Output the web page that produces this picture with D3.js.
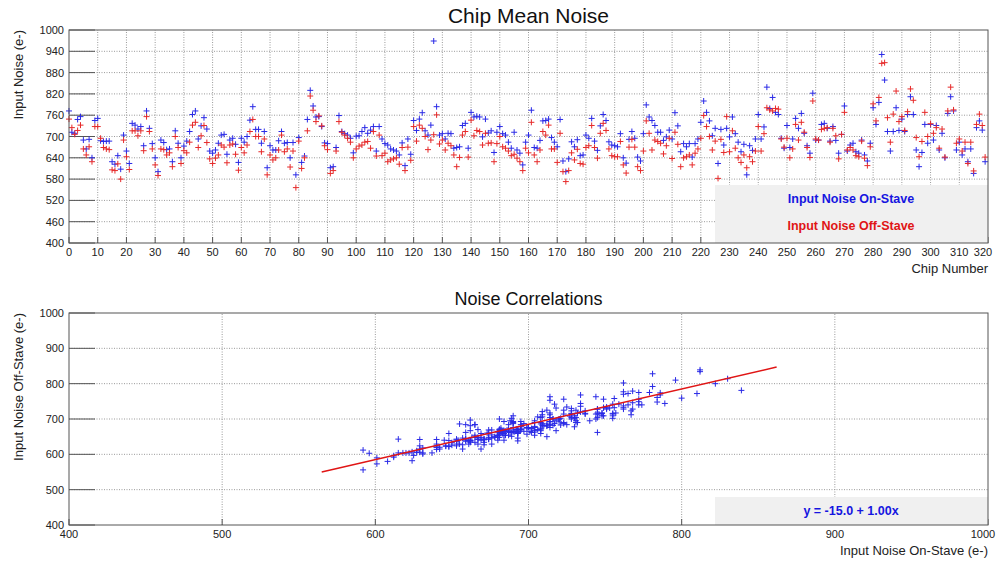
<!DOCTYPE html>
<html>
<head>
<meta charset="utf-8">
<script src="https://cdn.jsdelivr.net/npm/d3@7"></script>
<style>
  body { margin: 0; background: #fff; }
  svg { display: block; font-family: "Liberation Sans", Arial, Helvetica, sans-serif; }
</style>
</head>
<body>
<svg id="chart" width="997" height="563"></svg>
<script>
// input noise per chip (e-)
const onStave = [
  772,712,709,748,756,690,665,692,640,745, 751,688,686,687,687,629,622,646,608,704,
  659,624,737,732,721,728,674,772,723,680, 640,601,690,683,663,665,629,716,681,640,
  673,687,714,762,772,693,730,753,721,659, 653,662,681,704,706,650,690,695,678,627,
  695,684,700,746,784,720,720,681,714,612, 674,662,662,688,714,681,683,640,683,592,
  697,627,645,748,830,786,755,756,728,682, 680,612,615,669,759,714,708,704,695,654,
  701,702,714,725,709,718,728,659,728,693, 680,676,665,662,659,648,682,618,693,650,
  745,717,749,767,716,704,732,969,784,704, 708,693,709,708,667,669,671,731,737,667,
  768,755,757,755,699,749,710,716,655,712, 728,708,704,684,667,712,662,653,620,684,
  704,774,669,667,689,744,745,749,697,684, 671,748,631,601,637,685,671,691,646,648,
  704,695,751,687,661,730,762,745,685,676, 674,671,708,640,625,692,714,695,642,631,
  708,789,755,745,731,712,712,689,699,718, 693,767,730,657,680,671,680,642,680,693,
  740,800,768,744,702,723,624,720,676,723, 699,755,708,684,657,678,592,674,661,693,
  762,693,727,839,779,810,768,762,695,667, 731,669,693,751,723,765,709,674,653,822,
  690,690,734,737,723,687,728,689,653,706, 786,659,676,681,657,653,690,648,631,681,
  781,734,796,931,859,714,659,714,781,717, 749,714,762,812,762,662,615,655,734,681,
  734,690,731,662,709,640,765,812,772,662, 684,648,665,629,665,596,725,744,718,629
];
const offStave = [
  749,725,706,717,732,665,648,671,629,728, 728,695,669,665,663,606,604,623,580,690,
  643,607,716,716,702,716,660,756,714,665, 620,590,665,663,648,654,615,700,669,624,
  660,654,684,732,740,669,702,731,683,637, 624,639,648,676,670,626,676,679,650,605,
  669,654,676,714,748,700,700,657,693,592, 648,634,640,662,704,657,665,614,659,556,
  687,610,640,716,814,774,742,758,730,674, 663,596,604,659,742,712,704,695,684,640,
  665,673,676,684,686,667,714,645,704,646, 653,629,634,637,640,622,669,604,670,633,
  728,687,732,723,700,663,690,705,761,679, 690,662,681,674,648,615,641,704,714,642,
  746,702,717,714,676,709,681,682,629,680, 700,671,667,659,646,650,639,629,604,667,
  654,740,648,629,662,714,704,732,665,665, 627,709,601,573,604,654,634,664,624,622,
  669,674,731,669,639,709,737,717,665,646, 643,643,686,620,597,670,692,670,615,604,
  659,744,709,662,690,686,681,651,674,695, 638,712,678,615,640,643,648,620,653,665,
  695,759,728,700,662,687,582,692,655,756, 657,716,667,640,627,648,612,643,629,659,
  728,659,708,781,775,772,779,777,693,670, 695,640,665,734,690,740,712,669,641,800,
  693,690,720,723,725,684,723,702,637,706, 768,662,669,662,646,643,687,639,618,671,
  792,744,810,906,908,753,684,763,828,742, 756,717,770,834,802,697,643,686,768,700,
  736,709,725,667,721,642,772,839,775,681, 693,659,684,624,684,603,734,763,731,642
];
// chips left out of the correlation plot
const corrExcluded = [127, 283, 284];
// fit shown in the lower panel: y = p0 + p1 x, drawn over fitRange
const fitParams = [-15.0, 1.00];
const fitRange = [565, 862];

const chipTicks = d3.range(0, 321, 10);
const noiseTicks = [400, 460, 520, 580, 640, 700, 760, 820, 880, 940, 1000];
const corrTicks = [400, 500, 600, 700, 800, 900, 1000];

const blue = "#2a2ae6", red = "#e62a2a";
const cross = "M-3,0H3M0,-3V3";

let svg = d3.select("#chart");

//cadre, grille et graduations d'un panneau
function panel(x, y, xTicks, yTicks, xTitle, yTitle, title, titleY, titleSize) {
  let g = svg.append("g");
  let [x0, x1] = x.range(), [y0, y1] = y.range();

  g.selectAll(".gx").data(xTicks.slice(1, -1)).join("line")
    .attr("x1", d => x(d)).attr("x2", d => x(d)).attr("y1", y0).attr("y2", y1)
    .attr("stroke", "#9a9a9a").attr("stroke-dasharray", "1,1.5");
  g.selectAll(".gy").data(yTicks.slice(1, -1)).join("line")
    .attr("x1", x0).attr("x2", x1).attr("y1", d => y(d)).attr("y2", d => y(d))
    .attr("stroke", "#9a9a9a").attr("stroke-dasharray", "1,1.5");

  // solid ticks
  g.selectAll(".ty").data(yTicks).join("line")
    .attr("x1", x0).attr("x2", x0 + 26).attr("y1", d => y(d)).attr("y2", d => y(d))
    .attr("stroke", "#555");
  g.selectAll(".tx").data(xTicks).join("line")
    .attr("x1", d => x(d)).attr("x2", d => x(d)).attr("y1", y0).attr("y2", y0 - 6)
    .attr("stroke", "#555");

  // last label would run off the page, keep it inside
  g.selectAll(".lx").data(xTicks).join("text")
    .attr("x", d => Math.min(x(d), 983)).attr("y", y0 + 13)
    .attr("text-anchor", "middle").attr("font-size", 11).attr("fill", "#222")
    .text(d => d);
  g.selectAll(".ly").data(yTicks).join("text")
    .attr("x", x0 - 5).attr("y", d => y(d) + 4)
    .attr("text-anchor", "end").attr("font-size", 11).attr("fill", "#222")
    .text(d => d);

  g.append("text").attr("x", x1).attr("y", y0 + 30)
    .attr("text-anchor", "end").attr("font-size", 13).attr("fill", "#222")
    .text(xTitle);
  g.append("text").attr("transform", `translate(23,${y1}) rotate(-90)`)
    .attr("text-anchor", "end").attr("font-size", 13).attr("fill", "#222")
    .text(yTitle);
  g.append("text").attr("x", (x0 + x1) / 2).attr("y", titleY)
    .attr("text-anchor", "middle").attr("font-size", titleSize).attr("fill", "#111")
    .text(title);
  return g;
}

function frame(x, y) {
  let [x0, x1] = x.range(), [y0, y1] = y.range();
  svg.append("rect").attr("x", x0).attr("y", y1).attr("width", x1 - x0).attr("height", y0 - y1)
    .attr("fill", "none").attr("stroke", "#555");
}

// --- Chip Mean Noise
let xChip = d3.scaleLinear().domain([0, 320]).range([69, 988]),
    yNoise = d3.scaleLinear().domain([400, 1000]).range([243, 30]);

panel(xChip, yNoise, chipTicks, noiseTicks, "Chip Number", "Input Noise (e-)", "Chip Mean Noise", 23, 21);

svg.append("g").selectAll("path").data(onStave).join("path")
  .attr("d", cross).attr("transform", (d, i) => `translate(${xChip(i)},${yNoise(d)})`)
  .attr("stroke", blue).attr("fill", "none");
svg.append("g").selectAll("path").data(offStave).join("path")
  .attr("d", cross).attr("transform", (d, i) => `translate(${xChip(i)},${yNoise(d)})`)
  .attr("stroke", red).attr("fill", "none");

svg.append("rect").attr("x", 715).attr("y", 185).attr("width", 273).attr("height", 58)
  .attr("fill", "#f0f0f0");
svg.append("text").attr("x", 851).attr("y", 203).attr("text-anchor", "middle")
  .attr("font-size", 12.5).attr("font-weight", "bold").attr("fill", "#1515e0")
  .text("Input Noise On-Stave");
svg.append("text").attr("x", 851).attr("y", 230).attr("text-anchor", "middle")
  .attr("font-size", 12.5).attr("font-weight", "bold").attr("fill", "#e01515")
  .text("Input Noise Off-Stave");
frame(xChip, yNoise);

// --- Noise Correlations
let xOn = d3.scaleLinear().domain([400, 1000]).range([69, 988]),
    yOff = d3.scaleLinear().domain([400, 1000]).range([525, 313]);

panel(xOn, yOff, corrTicks, corrTicks, "Input Noise On-Stave (e-)", "Input Noise Off-Stave (e-)", "Noise Correlations", 305, 18);

let pairs = onStave.map((d, i) => ({on: d, off: offStave[i], chip: i}))
  .filter(p => !corrExcluded.includes(p.chip));

svg.append("g").selectAll("path").data(pairs).join("path")
  .attr("d", cross).attr("transform", p => `translate(${xOn(p.on)},${yOff(p.off)})`)
  .attr("stroke", blue).attr("fill", "none");

svg.append("path")
  .datum(fitRange)
  .attr("d", d3.line().x(d => xOn(d)).y(d => yOff(fitParams[0] + fitParams[1] * d)))
  .attr("stroke", "#e01515").attr("stroke-width", 1.5).attr("fill", "none");

svg.append("rect").attr("x", 715).attr("y", 497).attr("width", 273).attr("height", 28)
  .attr("fill", "#f0f0f0");
svg.append("text").attr("x", 851).attr("y", 515).attr("text-anchor", "middle")
  .attr("font-size", 12.5).attr("font-weight", "bold").attr("fill", "#1515e0")
  .text(`y = ${fitParams[0].toFixed(1)} + ${fitParams[1].toFixed(2)}x`);
frame(xOn, yOff);
</script>
</body>
</html>
